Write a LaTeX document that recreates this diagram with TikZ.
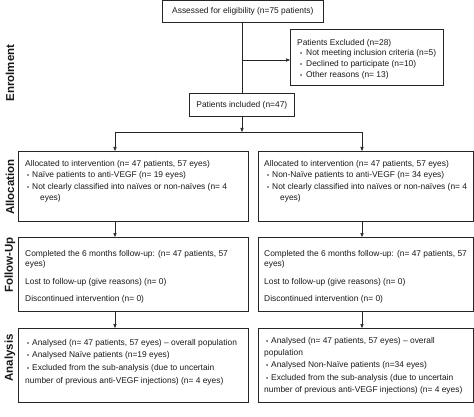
\documentclass[tikz,border=0pt]{standalone}
\usepackage{fontspec}
\setmainfont{Liberation Sans}
\usetikzlibrary{arrows.meta}
\newcommand\bul{\makebox[5pt][l]{\fontsize{6}{6}\selectfont •}}
\begin{document}
\begin{tikzpicture}[x=1pt,y=-1pt,
  box/.style={draw=black!85, line width=0.7pt, inner sep=0, anchor=north west},
  txt/.style={font=\fontsize{8.4}{11.7}\selectfont, align=left, inner sep=0, anchor=north west, text=black!90},
  ctxt/.style={font=\fontsize{8.4}{11.7}\selectfont, text=black!90},
  side/.style={font=\fontsize{11.5}{12}\selectfont\bfseries, rotate=90, inner sep=0, text=black!90},
  ln/.style={draw=black!85, line width=0.6pt},
  arr/.style={ln, -{Triangle[length=4pt,width=3.2pt]}}]
\useasboundingbox (0,0) rectangle (474,417);

% boxes
\node[box, ctxt, minimum width=161pt, minimum height=21.5pt] (top) at (162,0.5) {Assessed for eligibility (n=75 patients)};
\node[box, minimum width=153pt, minimum height=56pt] (excl) at (290,29) {};
\node[box, ctxt, minimum width=105pt, minimum height=23pt] (incl) at (189,93) {Patients included (n=47)};
\node[box, minimum width=230pt, minimum height=70pt] (allocL) at (18,151) {};
\node[box, minimum width=215pt, minimum height=70pt] (allocR) at (258,151) {};
\node[box, minimum width=230pt, minimum height=74pt] (folL) at (18,237) {};
\node[box, minimum width=215pt, minimum height=74pt] (folR) at (258,237) {};
\node[box, minimum width=230pt, minimum height=74pt] (anaL) at (18,328) {};
\node[box, minimum width=215pt, minimum height=74pt] (anaR) at (258,328) {};

% texts
\node[txt, font=\fontsize{8.4}{10.7}\selectfont] (exclT) at (297,39) {Patients Excluded (n=28)\\
\hspace*{3pt}\makebox[6pt][l]{\fontsize{6}{6}\selectfont •}Not meeting inclusion criteria (n=5)\\
\hspace*{3pt}\makebox[6pt][l]{\fontsize{6}{6}\selectfont •}Declined to participate (n=10)\\
\hspace*{3pt}\makebox[6pt][l]{\fontsize{6}{6}\selectfont •}Other reasons (n= 13)};

\node[txt] (allocLT) at (25,160) {Allocated to intervention (n= 47 patients, 57 eyes)\\
\hspace*{2pt}\bul Naïve patients to anti-VEGF (n= 19 eyes)\\
\hspace*{2pt}\bul Not clearly classified into naïves or non-naïves (n= 4\\[-0.8pt]
\hspace*{15pt}eyes)};
\node[txt] (allocRT) at (264,160) {Allocated to intervention (n= 47 patients, 57 eyes)\\
\hspace*{3pt}\bul Non-Naïve patients to anti-VEGF (n= 34 eyes)\\
\hspace*{3pt}\bul Not clearly classified into naïves or non-naïves (n= 4\\[-0.8pt]
\hspace*{16pt}eyes)};

\node[txt, font=\fontsize{8.4}{10.5}\selectfont] (folLT) at (25,250) {Completed the 6 months follow-up: (n= 47 patients, 57\\
eyes)\\[7pt]
Lost to follow-up (give reasons) (n= 0)\\[6.5pt]
Discontinued intervention (n= 0)};
\node[txt, font=\fontsize{8.4}{10.5}\selectfont] (folRT) at (264,250) {Completed the 6 months follow-up: (n= 47 patients, 57\\
eyes)\\[7pt]
Lost to follow-up (give reasons) (n= 0)\\[6.5pt]
Discontinued intervention (n= 0)};

\node[txt, font=\fontsize{8.4}{12.7}\selectfont] (anaLT) at (25,339) {\hspace*{2pt}\bul Analysed (n= 47 patients, 57 eyes) – overall population\\
\hspace*{2pt}\bul Analysed Naïve patients (n=19 eyes)\\
\hspace*{2pt}\bul Excluded from the sub-analysis (due to uncertain\\
number of previous anti-VEGF injections) (n= 4 eyes)};
\node[txt, font=\fontsize{8.4}{12.3}\selectfont] (anaRT) at (264,337) {\hspace*{2pt}\bul Analysed (n= 47 patients, 57 eyes) – overall\\
population\\
\hspace*{2pt}\bul Analysed Non-Naïve patients (n=34 eyes)\\
\hspace*{2pt}\bul Excluded from the sub-analysis (due to uncertain\\
number of previous anti-VEGF injections) (n= 4 eyes)};

% side labels
\node[side] (sEn) at (10,73) {Enrolment};
\node[side] (sAl) at (10,187) {Allocation};
\node[side] (sFo) at (10,265) {Follow-Up};
\node[side] (sAn) at (10,358) {Analysis};

% connectors
\coordinate (j1) at (242,60);
\coordinate (j2) at (242,132);
\coordinate (sl) at (115,132);
\coordinate (sr) at (362,132);
\draw[ln] (top.south -| j1) -- (incl.north -| j1);
\draw[arr] (j1) -- (excl.west |- j1);
\draw[arr] (incl.south -| j2) -- (j2);
\draw[ln] (sl) -- (sr);
\draw[arr] (sl) -- (sl |- allocL.north);
\draw[arr] (sr) -- (sr |- allocR.north);
\draw[arr] (sl |- allocL.south) -- (sl |- folL.north);
\draw[arr] (sr |- allocR.south) -- (sr |- folR.north);
\draw[arr] (sl |- folL.south) -- (sl |- anaL.north);
\draw[arr] (sr |- folR.south) -- (sr |- anaR.north);
\end{tikzpicture}
\end{document}
